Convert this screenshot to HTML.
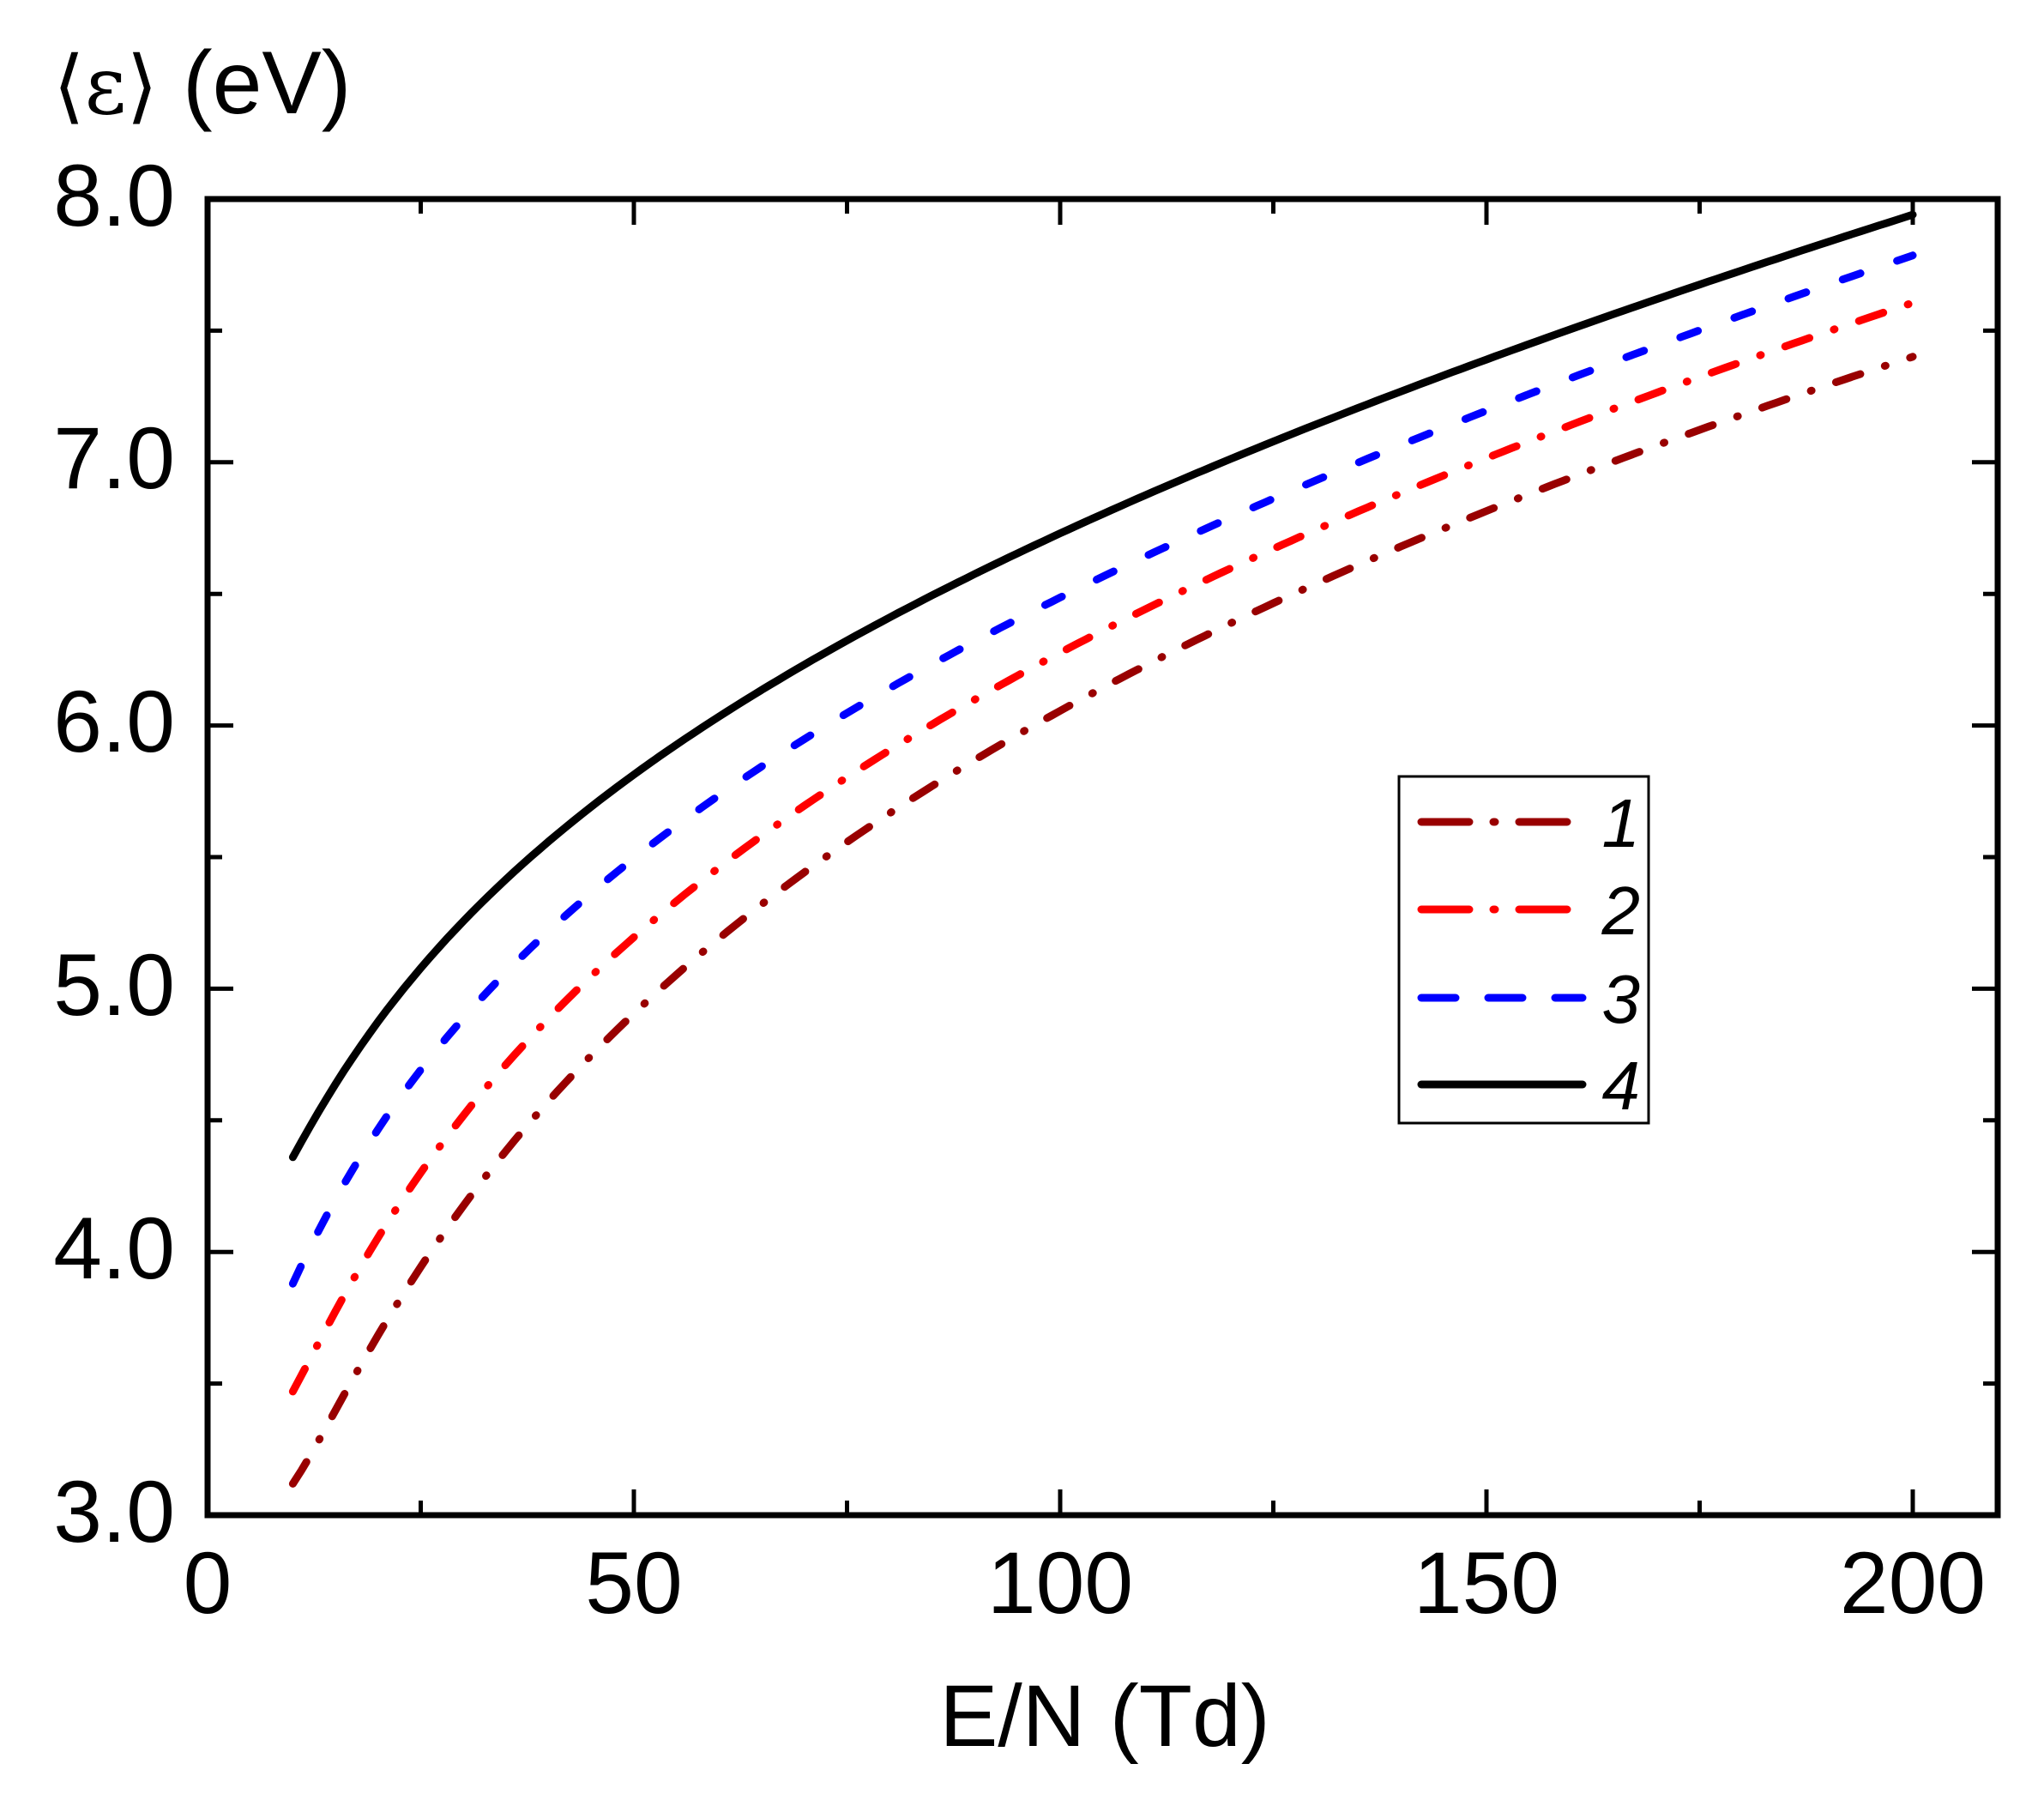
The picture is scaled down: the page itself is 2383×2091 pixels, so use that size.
<!DOCTYPE html>
<html><head><meta charset="utf-8"><style>
html,body{margin:0;padding:0;background:#fff;}
svg{display:block;}
text{font-family:"Liberation Sans",Arial,sans-serif;fill:#000;}
</style></head><body>
<svg id="s" width="2383" height="2091" viewBox="0 0 2383 2091" xmlns="http://www.w3.org/2000/svg">
<rect width="2383" height="2091" fill="#fff"/>
<g id="ticks" stroke="#000" stroke-width="5"></g>
<g id="curves" fill="none" stroke-linecap="round" stroke-linejoin="round"></g>
<rect x="242" y="232" width="2087" height="1534" fill="none" stroke="#000" stroke-width="7"/>
<g font-size="102" text-anchor="end">
<text x="204" y="1797">3.0</text>
<text x="204" y="1490">4.0</text>
<text x="204" y="1183">5.0</text>
<text x="204" y="876">6.0</text>
<text x="204" y="569">7.0</text>
<text x="204" y="263">8.0</text>
</g>
<g font-size="102" text-anchor="middle">
<text x="242" y="1880">0</text>
<text x="739" y="1880">50</text>
<text x="1236" y="1880">100</text>
<text x="1733" y="1880">150</text>
<text x="2230" y="1880">200</text>
</g>
<text x="1288" y="2035" font-size="102" text-anchor="middle">E/N (Td)</text>
<text x="62" y="132" font-size="104"><tspan font-family="'DejaVu Serif','Liberation Serif',serif" font-size="94">⟨ε⟩</tspan> (eV)</text>
<rect x="1631" y="905" width="291" height="404" fill="#fff" stroke="#000" stroke-width="3"/>
<g stroke-width="9" stroke-linecap="round" fill="none">
<line x1="1657" y1="958" x2="1827" y2="958" stroke="#990000" stroke-dasharray="56 28 2 28"/>
<line x1="1657" y1="1060" x2="1827" y2="1060" stroke="#ff0000" stroke-dasharray="56 28 2 28"/>
<line x1="1657" y1="1163" x2="1845" y2="1163" stroke="#0000ff" stroke-dasharray="40 38"/>
<line x1="1657" y1="1264" x2="1845" y2="1264" stroke="#000"/>
</g>
<g font-size="80" font-style="italic" text-anchor="end">
<text x="1912" y="987">1</text>
<text x="1912" y="1089">2</text>
<text x="1912" y="1192">3</text>
<text x="1912" y="1293">4</text>
</g>
</svg>
<script>
var X=function(e){return 242+9.94*e;}, Y=function(v){return 1766-306.8*(v-3);};
var tk=document.getElementById('ticks'),h='';
function ln(a,b,c,d){h+='<line x1="'+a+'" y1="'+b+'" x2="'+c+'" y2="'+d+'"/>';}
for(var v=3;v<=8.001;v+=0.5){var y=Y(v),L=(Math.abs(v-Math.round(v))<0.01)?30:17;ln(242,y,242+L,y);ln(2329,y,2329-L,y);}
for(var e=0;e<=200;e+=25){var x=X(e),L=(e%50==0)?30:17;ln(x,1766,x,1766-L);ln(x,232,x,232+L);}
tk.innerHTML=h;
var EE=[10,30,50,100,150,200];
var S=[
 {c:'#990000',d:'30 30 1 30',v:[3.12,4.15,4.94,6.06,6.78,7.42]},
 {c:'#ff0000',d:'30 30 1 30',v:[3.47,4.50,5.22,6.28,6.99,7.62]},
 {c:'#0000ff',d:'22 45',v:[3.88,4.87,5.52,6.49,7.17,7.80]},
 {c:'#000000',d:'none',v:[4.36,5.25,5.82,6.74,7.37,7.95]}];
function basis(e){return [1,Math.log(e),e,1/e];}
function solve(A,b){var n=b.length;for(var i=0;i<n;i++){var m=i;for(var k=i+1;k<n;k++)if(Math.abs(A[k][i])>Math.abs(A[m][i]))m=k;
 var t=A[i];A[i]=A[m];A[m]=t;t=b[i];b[i]=b[m];b[m]=t;
 for(var k=i+1;k<n;k++){var f=A[k][i]/A[i][i];for(var j=i;j<n;j++)A[k][j]-=f*A[i][j];b[k]-=f*b[i];}}
 var x=new Array(n);for(var i=n-1;i>=0;i--){var s=b[i];for(var j=i+1;j<n;j++)s-=A[i][j]*x[j];x[i]=s/A[i][i];}return x;}
var g='';
S.forEach(function(s){
 var n=4,A=[],b=[];for(var i=0;i<n;i++){A.push([0,0,0,0]);b.push(0);}
 EE.forEach(function(e,k){var f=basis(e),w=(k==0)?4:1;for(var i=0;i<n;i++){b[i]+=w*f[i]*s.v[k];for(var j=0;j<n;j++)A[i][j]+=w*f[i]*f[j];}});
 var c=solve(A,b);
 var d='';
 for(var e=10;e<=200.001;e+=1){var f=basis(e),v=0;for(var i=0;i<n;i++)v+=c[i]*f[i];d+=(e==10?'M':'L')+X(e).toFixed(1)+','+Y(v).toFixed(1);}
 g+='<path d="'+d+'" stroke="'+s.c+'" stroke-width="9"'+(s.d!='none'?' stroke-dasharray="'+s.d+'"':'')+'/>';
});
document.getElementById('curves').innerHTML=g;
</script>
</body></html>
